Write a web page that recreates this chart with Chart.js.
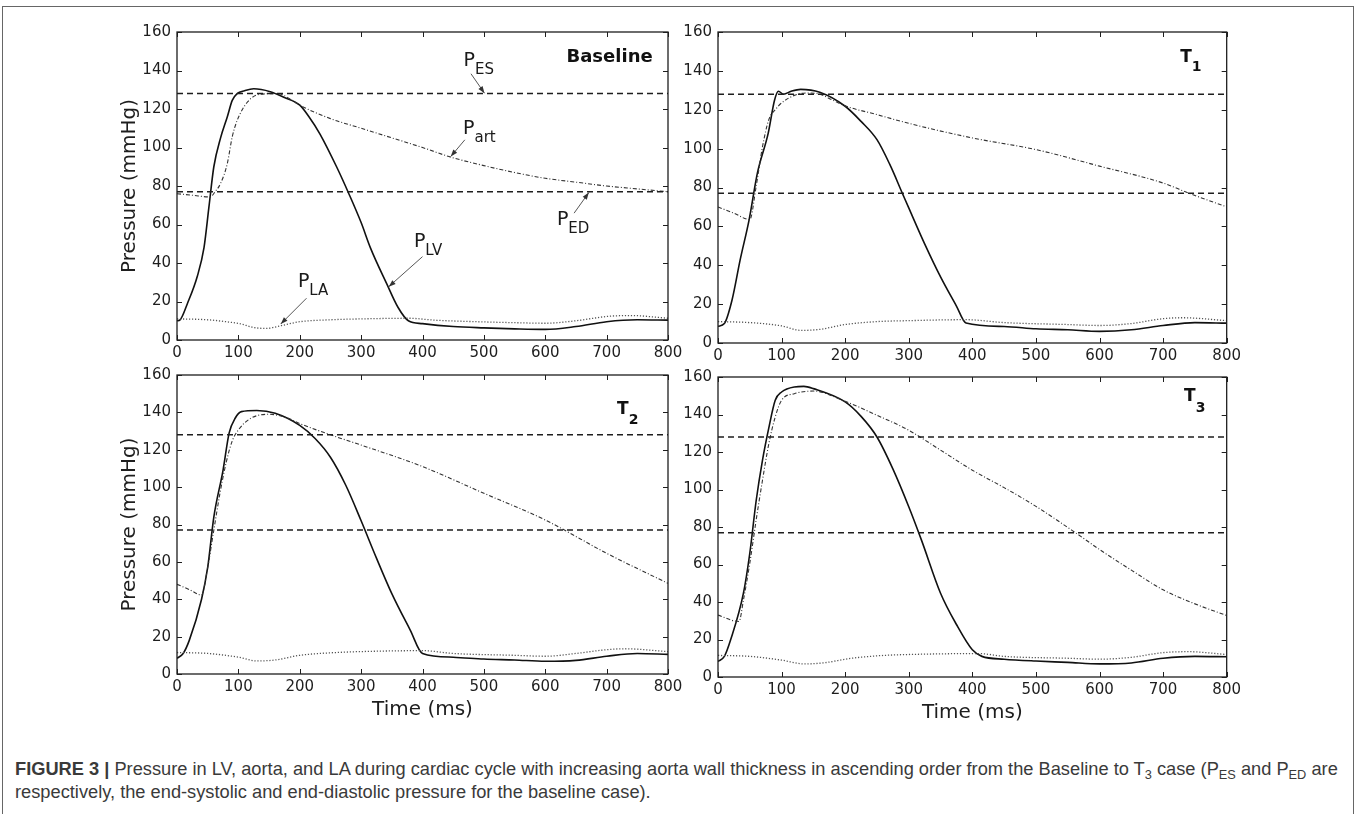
<!DOCTYPE html>
<html>
<head>
<meta charset="utf-8">
<script src="https://cdn.jsdelivr.net/npm/chart.js@4.4.1/dist/chart.umd.min.js"></script>
<style>
  body { margin: 0; background: #fff; width: 1358px; height: 814px; overflow: hidden; position: relative; }
  .frame { position: absolute; left: 2px; top: 6px; width: 1352px; height: 840px; border: 1.5px solid #666; box-sizing: border-box; }
  canvas { position: absolute; }
  #caption { position: absolute; left: 15px; top: 757px; font-family: "Liberation Sans Narrow", "Liberation Sans", sans-serif;
             font-size: 18.25px; line-height: 23px; color: #3a3a3a; white-space: nowrap; }
  #caption sub { font-size: 70%; vertical-align: -0.3em; line-height: 0; }
</style>
</head>
<body>
<div class="frame"></div>
<canvas id="c1"></canvas>
<canvas id="c2"></canvas>
<canvas id="c3"></canvas>
<canvas id="c4"></canvas>
<div id="caption"><b>FIGURE 3 |</b> Pressure in LV, aorta, and LA during cardiac cycle with increasing aorta wall thickness in ascending order from the Baseline to T<sub>3</sub> case (P<sub>ES</sub> and P<sub>ED</sub> are<br>respectively, the end-systolic and end-diastolic pressure for the baseline case).</div>

<script>
const timeTicks = [0, 100, 200, 300, 400, 500, 600, 700, 800];
const pressureTicks = [0, 20, 40, 60, 80, 100, 120, 140, 160];
const pES = 128;
const pED = 77;

// [time ms, pressure mmHg]
const baseLV = [[0,10],[5,10.5],[17,19],[33,33],[44,48],[52,69],[60,90],[71,105],[82,116],[90,124.5],[98,128],[110,129.5],[125,130.5],[152,129],[175,126],[200,122],[215,116],[233,107],[260,90],[280,76],[300,61],[315,48],[342,29],[360,17],[377,10],[400,8.5],[450,7],[500,6.3],[550,5.8],[600,5.5],[650,7],[700,9.5],[750,10.5],[800,10.3]];
const baseArt = [[0,76],[25,75.2],[54,74.3],[62,77],[71,81.3],[82,91.7],[90,105.5],[98,114],[115,123.7],[136,127.7],[165,128],[185,125],[200,122],[250,115],[300,110],[350,105],[400,100],[446,95],[500,90.6],[550,87],[600,84],[650,82],[700,80],[750,78.5],[800,77]];
const baseLA = [[0,11],[50,10.5],[80,9.5],[102,8.5],[125,6.5],[145,6],[170,7.5],[200,9.5],[250,10.5],[305,11],[378,11.3],[420,10.3],[489,9.5],[550,9],[600,8.7],[650,10],[703,12.3],[740,12.7],[800,11.3]];

const t1LV = [[0,8.6],[10,10],[22,22],[35,43],[49,63.5],[62,87.5],[79,108],[89,125],[95,129.5],[103,128],[115,129.5],[130,130.5],[160,129],[200,121.8],[225,114],[250,104.6],[270,92],[290,77],[300,69.5],[325,51],[350,34],[375,19],[390,10.3],[450,8.5],[500,7.3],[550,6.8],[600,6],[650,6.8],[700,9],[750,10.5],[800,10.2]];
const t1Art = [[0,70],[25,66.8],[50,63.5],[60,80.6],[70,101],[80,115],[90,120],[100,123.5],[120,127.4],[140,128.6],[160,128],[180,125],[200,122],[250,117.5],[300,113],[400,105.5],[500,99.5],[600,91],[700,82.3],[741,77],[800,70]];
const t1LA = [[0,11],[50,10.5],[100,8.8],[130,6.5],[160,7],[200,9.5],[250,11],[300,11.5],[390,12],[450,10.5],[550,9.5],[600,9],[650,10],[700,12.5],[730,13],[800,11.5]];

const t2LV = [[0,8.4],[10,11],[20,18],[40,40],[50,57],[60,84],[75,109],[85,129],[95,137],[105,140.4],[130,141],[160,139.5],[200,133],[225,126],[250,116],[275,101],[300,82],[325,62],[350,43],[380,23.5],[400,11],[450,9],[500,8],[550,7.5],[600,6.8],[650,7.3],[700,9.5],[750,11],[800,10.5]];
const t2Art = [[0,48],[20,45.2],[40,42.3],[50,57],[60,77],[70,96.7],[80,113],[90,124.7],[100,130.6],[120,136.8],[150,139],[180,137],[200,134],[250,128],[300,122.5],[400,111],[500,96.7],[600,82.4],[700,64.6],[800,48.5]];
const t2LA = [[0,11.5],[50,11],[100,9],[130,7],[160,7.5],[200,10],[260,11.5],[300,12],[400,12.5],[450,11],[550,10],[600,9.5],[650,11],[700,13],[730,13.5],[800,12]];

const t3LV = [[0,8.3],[10,11],[20,20],[40,44.7],[50,66],[60,94],[70,115.7],[80,133],[90,147.6],[100,152],[120,154.7],[135,155],[150,153.8],[200,146.7],[225,139],[250,128],[275,111],[300,90.8],[320,73],[350,44.7],[375,28],[400,14.5],[415,11],[450,9.5],[500,8.5],[550,7.8],[600,7],[650,7.5],[700,10],[750,11],[800,10.8]];
const t3Art = [[0,33],[33,29.6],[40,41],[50,60.7],[60,83.7],[70,105],[80,124.5],[90,138.7],[100,147.6],[120,151.1],[150,152.5],[200,147],[250,139.6],[300,131.6],[350,121],[400,110.3],[450,101],[500,91],[562,77],[600,68],[650,57],[700,46.5],[750,39],[800,32.8]];
const t3LA = [[0,11.5],[50,11],[100,9],[135,7],[165,7.5],[210,10],[260,11.5],[300,12],[410,12.5],[450,11],[550,10],[600,9.5],[650,10.5],[700,13],[740,13.5],[800,12]];

// labels on the baseline panel: text, subscript, where the text sits, arrow from -> to (data coords)
const baseNotes = [
  { sub: "ES",  at: [467, 144.7], from: [479, 138.3], to: [501, 128.2] },
  { sub: "art", at: [466, 109.5], from: [469, 104],   to: [446, 95.3] },
  { sub: "ED",  at: [619, 62.4],  from: [647, 65.9],  to: [671, 76.6] },
  { sub: "LV",  at: [386, 50.8],  from: [400, 43.3],  to: [345, 27.7] },
  { sub: "LA",  at: [197, 30.2],  from: [211, 21.7],  to: [169, 8.3] }
];

const panels = [
  { id: "c1", box: [95, 8, 605, 362],  area: { l: 177, t: 32,  r: 668,  b: 340 },
    lv: baseLV, art: baseArt, la: baseLA, yTitle: true,  xTitle: false,
    tag: { text: "Baseline", alignRight: true, at: [775, 147] }, notes: baseNotes },
  { id: "c2", box: [680, 8, 565, 365], area: { l: 718, t: 32,  r: 1230, b: 343 },
    lv: t1LV, art: t1Art, la: t1LA, yTitle: false, xTitle: false,
    tag: { text: "T", sub: "1", at: [727, 146.9], subAt: 141.7 } },
  { id: "c3", box: [95, 355, 605, 367], area: { l: 177, t: 375, r: 668,  b: 674 },
    lv: t2LV, art: t2Art, la: t2LA, yTitle: true,  xTitle: true,
    tag: { text: "T", sub: "2", at: [717, 141.3], subAt: 135.9 } },
  { id: "c4", box: [680, 355, 565, 370], area: { l: 718, t: 377, r: 1230, b: 677 },
    lv: t3LV, art: t3Art, la: t3LA, yTitle: false, xTitle: true,
    tag: { text: "T", sub: "3", at: [733, 149.3], subAt: 143.5 } }
];

const ink = "#1e1e1e";
const tickFont = { family: "DejaVu Sans", size: 15 };
const titleFont = { family: "DejaVu Sans", size: 20 };

function pts(arr) { return arr.map(p => ({ x: p[0], y: p[1] })); }

function drawArrow(ctx, x1, y1, x2, y2) {
  const a = Math.atan2(y2 - y1, x2 - x1);
  ctx.beginPath();
  ctx.moveTo(x1, y1);
  ctx.lineTo(x2, y2);
  ctx.stroke();
  ctx.beginPath();
  ctx.moveTo(x2, y2);
  ctx.lineTo(x2 - 7 * Math.cos(a) + 2.5 * Math.sin(a), y2 - 7 * Math.sin(a) - 2.5 * Math.cos(a));
  ctx.lineTo(x2 - 7 * Math.cos(a) - 2.5 * Math.sin(a), y2 - 7 * Math.sin(a) + 2.5 * Math.cos(a));
  ctx.closePath();
  ctx.fill();
}

function framePlugin(panel) {
  return {
    id: "frame",
    afterDraw(chart) {
      const { ctx, chartArea: ca, scales: { x, y } } = chart;
      ctx.save();
      ctx.strokeStyle = ink;
      ctx.lineWidth = 1.3;
      ctx.strokeRect(ca.left, ca.top, ca.right - ca.left, ca.bottom - ca.top);
      ctx.lineWidth = 1;
      ctx.beginPath();
      timeTicks.forEach(v => {
        const px = Math.round(x.getPixelForValue(v)) + 0.5;
        ctx.moveTo(px, ca.bottom); ctx.lineTo(px, ca.bottom - 5);
        ctx.moveTo(px, ca.top); ctx.lineTo(px, ca.top + 5);
      });
      pressureTicks.forEach(v => {
        const py = Math.round(y.getPixelForValue(v)) + 0.5;
        ctx.moveTo(ca.left, py); ctx.lineTo(ca.left + 5, py);
        ctx.moveTo(ca.right, py); ctx.lineTo(ca.right - 5, py);
      });
      ctx.stroke();

      // panel tag
      const tag = panel.tag;
      ctx.fillStyle = "#111";
      ctx.textBaseline = "middle";
      if (tag.alignRight) {
        ctx.font = "bold 18px 'DejaVu Sans'";
        ctx.textAlign = "right";
        ctx.fillText(tag.text, x.getPixelForValue(tag.at[0]), y.getPixelForValue(tag.at[1]));
      } else {
        ctx.font = "bold 17px 'DejaVu Sans'";
        ctx.textAlign = "left";
        const tx = x.getPixelForValue(tag.at[0]);
        ctx.fillText(tag.text, tx, y.getPixelForValue(tag.at[1]));
        const w = ctx.measureText(tag.text).width;
        ctx.font = "bold 14px 'DejaVu Sans'";
        ctx.fillText(tag.sub, tx + w, y.getPixelForValue(tag.subAt));
      }

      // arrows and labels
      (panel.notes || []).forEach(n => {
        const px = x.getPixelForValue(n.at[0]);
        const py = y.getPixelForValue(n.at[1]);
        ctx.fillStyle = "#1a1a1a";
        ctx.textAlign = "left";
        ctx.font = "19px 'DejaVu Sans'";
        ctx.fillText("P", px, py);
        const w = ctx.measureText("P").width;
        ctx.font = "15px 'DejaVu Sans'";
        ctx.fillText(n.sub, px + w, py + 9);
        ctx.strokeStyle = "#444";
        ctx.fillStyle = "#333";
        ctx.lineWidth = 0.9;
        drawArrow(ctx, x.getPixelForValue(n.from[0]), y.getPixelForValue(n.from[1]),
                  x.getPixelForValue(n.to[0]), y.getPixelForValue(n.to[1]));
      });
      ctx.restore();
    }
  };
}

function makeChart(panel) {
  const [cl, ct, cw, ch] = panel.box;
  const a = panel.area;
  const canvas = document.getElementById(panel.id);
  canvas.width = cw; canvas.height = ch;
  canvas.style.left = cl + "px"; canvas.style.top = ct + "px";
  canvas.style.width = cw + "px"; canvas.style.height = ch + "px";

  const flat = v => [{ x: 0, y: v }, { x: 800, y: v }];

  new Chart(canvas, {
    type: "line",
    data: {
      datasets: [
        { label: "P_ES", data: flat(pES), borderColor: ink, borderWidth: 1.5, borderDash: [6, 4] },
        { label: "P_ED", data: flat(pED), borderColor: ink, borderWidth: 1.5, borderDash: [6, 4] },
        { label: "P_LA", data: pts(panel.la), borderColor: "#555", borderWidth: 1.3, borderDash: [1.2, 1.8], cubicInterpolationMode: "monotone" },
        { label: "P_art", data: pts(panel.art), borderColor: "#333", borderWidth: 1.1, borderDash: [4, 2, 1, 2], cubicInterpolationMode: "monotone" },
        { label: "P_LV", data: pts(panel.lv), borderColor: "#111", borderWidth: 1.6, cubicInterpolationMode: "monotone" }
      ]
    },
    options: {
      responsive: false,
      animation: false,
      devicePixelRatio: 1,
      layout: { padding: { top: a.t - ct, right: cl + cw - a.r, left: 0, bottom: 0 } },
      elements: { point: { radius: 0 } },
      plugins: { legend: { display: false }, tooltip: { enabled: false } },
      scales: {
        x: {
          type: "linear", min: 0, max: 800,
          grid: { display: false, drawTicks: false },
          border: { display: false },
          ticks: { stepSize: 100, font: tickFont, color: ink, padding: 4, maxRotation: 0 },
          title: { display: panel.xTitle, text: "Time (ms)", font: titleFont, color: ink, padding: { top: 0, bottom: 0 } },
          afterFit: s => { s.height = ct + ch - a.b; }
        },
        y: {
          min: 0, max: 160,
          grid: { display: false, drawTicks: false },
          border: { display: false },
          ticks: { stepSize: 20, font: tickFont, color: ink, padding: 6 },
          title: { display: panel.yTitle, text: "Pressure (mmHg)", font: titleFont, color: ink, padding: { top: 23, bottom: 0 } },
          afterFit: s => { s.width = a.l - cl; }
        }
      }
    },
    plugins: [framePlugin(panel)]
  });
}

panels.forEach(makeChart);
</script>
</body>
</html>
